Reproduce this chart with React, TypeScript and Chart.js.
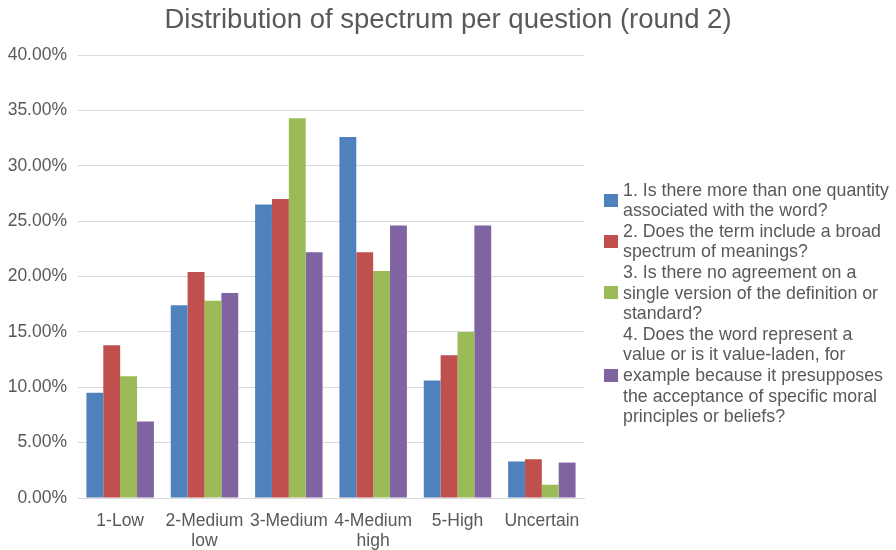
import React, { useEffect, useRef } from "react";
import { Chart, registerables } from "chart.js";

Chart.register(...registerables);

const titleText = "Distribution of spectrum per question (round 2)";
const categories: (string | string[])[] = [
  "1-Low",
  ["2-Medium", "low"],
  "3-Medium",
  ["4-Medium", "high"],
  "5-High",
  "Uncertain",
];
const q1Values = [9.5, 17.4, 26.5, 32.6, 10.6, 3.3];
const q2Values = [13.8, 20.4, 27.0, 22.2, 12.9, 3.5];
const q3Values = [11.0, 17.8, 34.3, 20.5, 15.0, 1.2];
const q4Values = [6.9, 18.5, 22.2, 24.6, 24.6, 3.2];
const yTicks = [0, 5, 10, 15, 20, 25, 30, 35, 40];

const q1Lines = ["1. Is there more than one quantity", "associated with the word?"];
const q2Lines = ["2. Does the term include a broad", "spectrum of meanings?"];
const q3Lines = ["3. Is there no agreement on a", "single version of the definition or", "standard?"];
const q4Lines = [
  "4. Does the word represent a",
  "value or is it value-laden, for",
  "example because it presupposes",
  "the acceptance of specific moral",
  "principles or beliefs?",
];

const colors = ["#4F81BD", "#C0504D", "#9BBB59", "#8064A2"];
const series = [
  { lines: q1Lines, values: q1Values },
  { lines: q2Lines, values: q2Values },
  { lines: q3Lines, values: q3Values },
  { lines: q4Lines, values: q4Values },
];

const FONT = "'Liberation Sans', Arial, sans-serif";
const TEXT = "#595959";

export default function App() {
  const ref = useRef<HTMLCanvasElement | null>(null);

  useEffect(() => {
    if (!ref.current) return;
    const chart = new Chart(ref.current, {
      type: "bar",
      data: {
        labels: categories,
        datasets: series.map((s, i) => ({
          label: s.lines.join(" "),
          data: s.values,
          backgroundColor: colors[i],
          borderWidth: 0,
          barPercentage: 1,
          categoryPercentage: 0.8,
          yAxisID: "y",
        })),
      },
      options: {
        responsive: false,
        animation: false,
        layout: { padding: { left: 0, right: 0, top: 0, bottom: 0 } },
        plugins: {
          legend: { display: false },
          tooltip: { enabled: false },
          title: {
            display: true,
            text: titleText,
            color: TEXT,
            font: { family: FONT, size: 27.5, weight: "normal", lineHeight: 1.2 },
            padding: { top: 4, bottom: 18 },
          },
        },
        scales: {
          x: {
            grid: { display: false },
            border: { display: true, color: "#D9D9D9", width: 1 },
            ticks: {
              color: TEXT,
              font: { family: FONT, size: 17.5, lineHeight: 1.1 },
              padding: 6,
              maxRotation: 0,
              autoSkip: false,
            },
            afterFit: (s: any) => {
              s.height = 52;
            },
          },
          y: {
            min: 0,
            max: 40,
            afterBuildTicks: (s: any) => {
              s.ticks = yTicks.map((v) => ({ value: v }));
            },
            grid: { color: "#D9D9D9", lineWidth: 1, drawTicks: false },
            border: { display: false },
            ticks: {
              color: TEXT,
              font: { family: FONT, size: 17.5 },
              padding: 11,
              callback: (v: any) => Number(v).toFixed(2) + "%",
            },
            afterFit: (s: any) => {
              s.width = 78;
            },
          },
          yRight: {
            position: "right",
            display: true,
            grid: { display: false, drawOnChartArea: false },
            border: { display: false },
            ticks: { display: false },
            afterFit: (s: any) => {
              s.width = 312;
            },
          },
        },
      } as any,
    });
    return () => chart.destroy();
  }, []);

  return (
    <div style={{ position: "fixed", left: 0, top: 0, width: 896, height: 550, background: "#fff" }}>
      <canvas ref={ref} width={896} height={550} style={{ display: "block", width: 896, height: 550 }} />
      <div
        style={{
          position: "absolute",
          left: 604,
          top: 179.7,
          fontFamily: FONT,
          fontSize: 17.8,
          lineHeight: "20.6px",
          color: TEXT,
        }}
      >
        {series.map((s, i) => (
          <div key={i} style={{ display: "flex", alignItems: "center" }}>
            <div style={{ width: 14, height: 13, background: colors[i], marginRight: 5, flex: "none" }} />
            <div style={{ whiteSpace: "nowrap" }}>
              {s.lines.map((l, j) => (
                <div key={j}>{l}</div>
              ))}
            </div>
          </div>
        ))}
      </div>
    </div>
  );
}
